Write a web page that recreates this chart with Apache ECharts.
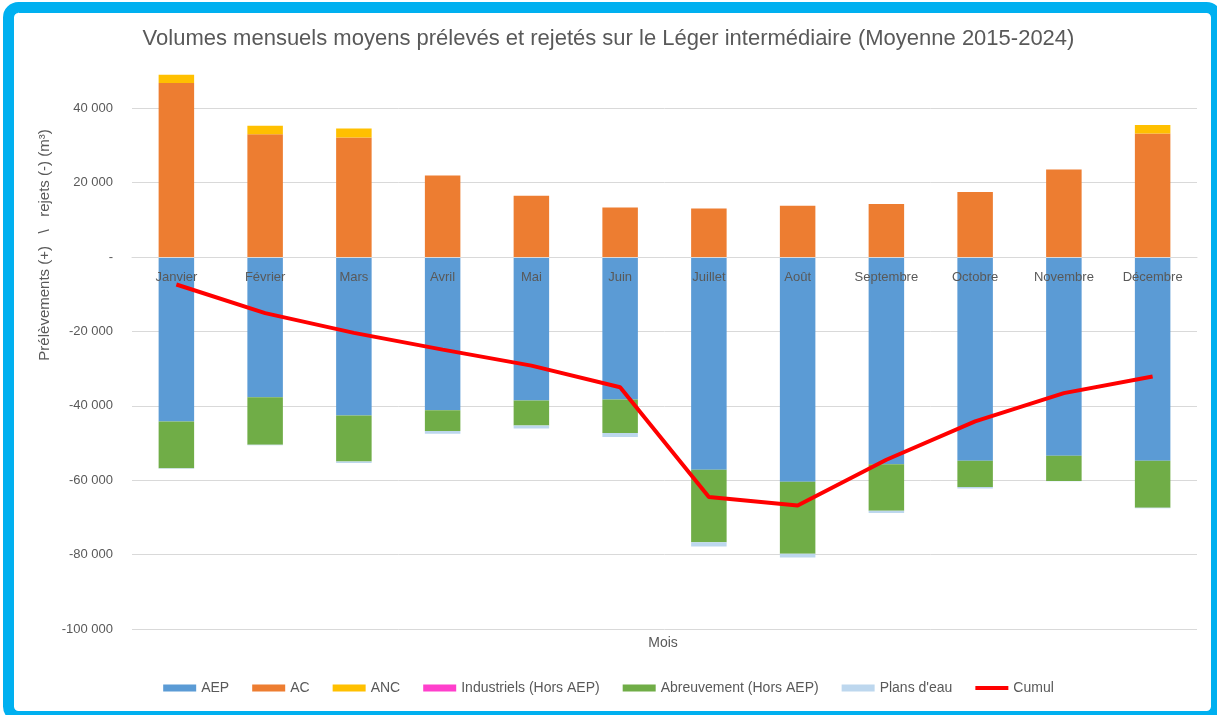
<!DOCTYPE html>
<html>
<head>
<meta charset="utf-8">
<script src="https://cdn.jsdelivr.net/npm/echarts@6/dist/echarts.min.js"></script>
<style>
  html, body { margin: 0; padding: 0; background: #fff; }
  #chart { width: 1217px; height: 715px; }
</style>
</head>
<body>
<div id="chart"></div>
<script>
// mois
var months = ['Janvier', 'Février', 'Mars', 'Avril', 'Mai', 'Juin', 'Juillet', 'Août', 'Septembre', 'Octobre', 'Novembre', 'Décembre'];

// volumes en m3 (prélèvements +, rejets -)
var aep = [-44200, -37700, -42600, -41200, -38600, -38300, -57200, -60400, -55700, -54800, -53400, -54800];
var ac = [46800, 33000, 32150, 21940, 16480, 13330, 13060, 13790, 14250, 17470, 23550, 33230];
var anc = [2200, 2300, 2400, 0, 0, 0, 0, 0, 0, 0, 0, 2250];
var industriels = [0, 0, 0, 0, 0, 0, 0, 0, 0, 0, 0, 0];
var abreuvement = [-12600, -12800, -12400, -5600, -6700, -9000, -19500, -19400, -12500, -7000, -6800, -12600];
var plansEau = [-100, -100, -400, -700, -800, -1100, -1150, -1000, -600, -400, -100, -150];
var cumul = [-7400, -15100, -20400, -24900, -29200, -35000, -64500, -66800, -54500, -44200, -36600, -32100];

var FONT = 'Liberation Sans';
var GREY = '#595959';

function fmt(v) {
  if (v === 0) return '-';
  var s = String(Math.abs(v)).replace(/\B(?=(\d{3})+(?!\d))/g, ' ');
  return (v < 0 ? '-' : '') + s;
}

function bar(name, data, color) {
  return {
    name: name,
    type: 'bar',
    stack: 'total',
    barWidth: '40%',
    data: data,
    itemStyle: { color: color },
    emphasis: { disabled: true }
  };
}

var myChart = echarts.init(document.getElementById('chart'));
var option = {
  backgroundColor: '#fff',
  animation: false,
  title: {
    text: 'Volumes mensuels moyens prélevés et rejetés sur le Léger intermédiaire (Moyenne 2015-2024)',
    left: 'center',
    top: 23,
    textStyle: { fontFamily: FONT, fontSize: 22, fontWeight: 'normal', color: GREY }
  },
  legend: {
    bottom: 15,
    left: 'center',
    icon: 'rect',
    itemWidth: 33,
    itemHeight: 7,
    itemGap: 23,
    textStyle: { fontFamily: FONT, fontSize: 14, color: GREY },
    data: ['AEP', 'AC', 'ANC', 'Industriels (Hors AEP)', 'Abreuvement (Hors AEP)', "Plans d'eau",
      { name: 'Cumul', icon: 'path://M0,1.5 L33,1.5 L33,5.5 L0,5.5 Z' }]
  },
  grid: { left: 132, right: 20, top: 71, bottom: 86 },
  xAxis: {
    type: 'category',
    data: months,
    z: 10,
    offset: -372,
    axisLine: { onZero: false, lineStyle: { color: '#d9d9d9' } },
    axisTick: { show: false },
    axisLabel: { fontFamily: FONT, fontSize: 13, color: GREY, margin: 14, interval: 0 }
  },
  yAxis: {
    type: 'value',
    min: -100000,
    max: 50000,
    interval: 20000,
    axisLine: { show: false },
    axisTick: { show: false },
    axisLabel: {
      fontFamily: FONT, fontSize: 13, color: GREY, margin: 19,
      showMaxLabel: false,
      formatter: fmt
    },
    splitLine: { showMaxLine: false, lineStyle: { color: '#d9d9d9', width: 1 } }
  },
  series: [
    bar('AEP', aep, '#5B9BD5'),
    bar('AC', ac, '#ED7D31'),
    bar('ANC', anc, '#FFC000'),
    bar('Industriels (Hors AEP)', industriels, '#FF3FCC'),
    bar('Abreuvement (Hors AEP)', abreuvement, '#70AD47'),
    bar("Plans d'eau", plansEau, '#BDD7EE'),
    {
      name: 'Cumul',
      type: 'line',
      data: cumul,
      symbol: 'none',
      z: 5,
      lineStyle: { color: '#FF0000', width: 4 },
      itemStyle: { color: '#FF0000' },
      emphasis: { disabled: true }
    }
  ],
  graphic: [
    {
      type: 'rect',
      shape: { x: 8.5, y: 7.5, width: 1208, height: 709, r: 10 },
      style: { fill: 'none', stroke: '#00B0F0', lineWidth: 11 },
      silent: true
    },
    {
      type: 'text',
      x: 45, y: 245,
      rotation: Math.PI / 2,
      style: {
        text: 'Prélèvements (+)   \\   rejets (-) (m³)',
        fontFamily: FONT, fontSize: 15, fill: GREY,
        align: 'center', verticalAlign: 'middle'
      }
    },
    {
      type: 'text',
      x: 663, y: 643,
      style: {
        text: 'Mois',
        fontFamily: FONT, fontSize: 14, fill: GREY,
        align: 'center', verticalAlign: 'middle'
      }
    }
  ]
};
myChart.setOption(option);
</script>
</body>
</html>
